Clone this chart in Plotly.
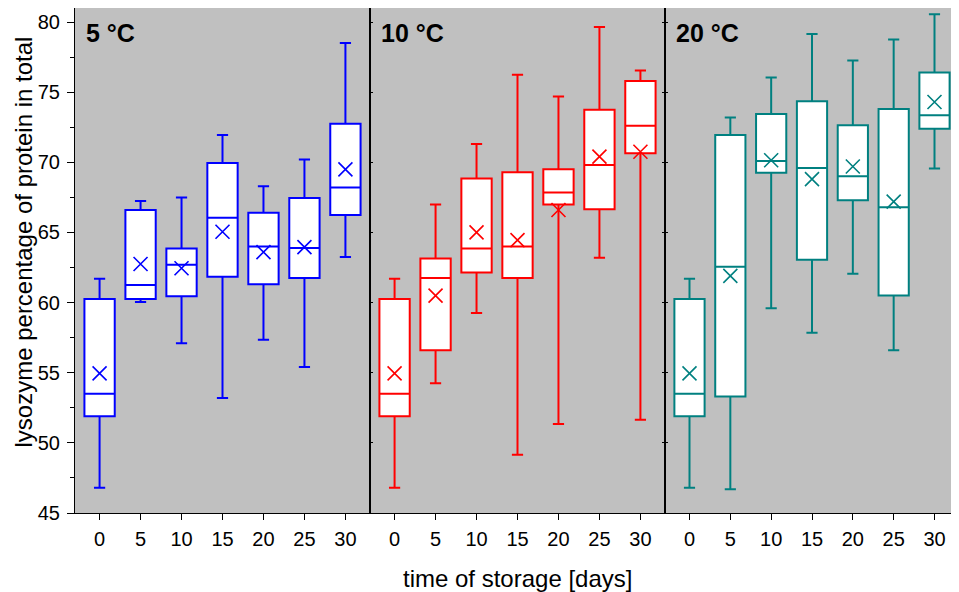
import plotly.graph_objects as go

days = [0, 5, 10, 15, 20, 25, 30]
panel_labels = ["5 °C", "10 °C", "20 °C"]
colors = ["#0000FF", "#FF0000", "#008080"]

# 5 °C
lo_5 = [46.8, 60.05, 57.1, 53.2, 57.35, 55.4, 63.25]
q1_5 = [51.9, 60.25, 60.45, 61.85, 61.3, 61.75, 66.25]
med_5 = [53.5, 61.25, 62.7, 66.05, 64.0, 63.9, 68.2]
q3_5 = [60.25, 66.6, 63.85, 69.95, 66.4, 67.45, 72.75]
hi_5 = [61.7, 67.25, 67.5, 71.95, 68.3, 70.2, 78.5]
mean_5 = [54.95, 62.75, 62.45, 65.05, 63.6, 63.95, 69.5]

# 10 °C
lo_10 = [46.8, 54.25, 59.25, 49.15, 51.35, 63.2, 51.65]
q1_10 = [51.9, 56.6, 62.15, 61.75, 67.0, 66.65, 70.65]
med_10 = [53.5, 61.75, 63.85, 64.0, 67.85, 69.8, 72.6]
q3_10 = [60.25, 63.15, 68.85, 69.3, 69.5, 73.75, 75.8]
hi_10 = [61.7, 67.0, 71.3, 76.25, 74.7, 79.65, 76.55]
mean_10 = [54.95, 60.5, 65.0, 64.45, 66.6, 70.4, 70.75]

# 20 °C
lo_20 = [46.8, 46.7, 59.6, 57.85, 62.05, 56.6, 69.55]
q1_20 = [51.9, 53.3, 69.25, 63.05, 67.3, 60.5, 72.4]
med_20 = [53.5, 62.55, 70.1, 69.6, 69.0, 66.8, 73.35]
q3_20 = [60.25, 71.95, 73.45, 74.35, 72.65, 73.8, 76.4]
hi_20 = [61.7, 73.2, 76.05, 79.15, 77.25, 78.75, 80.55]
mean_20 = [54.95, 61.9, 70.15, 68.8, 69.7, 67.2, 74.3]

y_ticks = [45, 50, 55, 60, 65, 70, 75, 80]
x_title = "time of storage [days]"
y_title = "lysozyme percentage of protein in total"

stats = [
    (lo_5, q1_5, med_5, q3_5, hi_5, mean_5),
    (lo_10, q1_10, med_10, q3_10, hi_10, mean_10),
    (lo_20, q1_20, med_20, q3_20, hi_20, mean_20),
]

FONT = "Liberation Sans, Arial, sans-serif"
OFF = 8  # page body margin
W, H = 959 - OFF, 592 - OFF
ML, MR, MT = 75 - OFF, 0, 0
PH = 513 - 8  # plot height in px (reference y 8..513)
MB = H - MT - PH
PW = W - ML - MR
edges = [0, 295, 590, PW]
domains = [[edges[i] / PW, edges[i + 1] / PW] for i in range(3)]


def px_x(xr):
    return (xr - OFF - ML) / PW


def px_y(yr):
    return (MT + PH - (yr - OFF)) / PH


fig = go.Figure()
for i, (lo, q1, med, q3, hi, mean) in enumerate(stats):
    xa = "x" if i == 0 else f"x{i+1}"
    ya = "y" if i == 0 else f"y{i+1}"
    fig.add_trace(go.Box(
        x=days, lowerfence=lo, q1=q1, median=med, q3=q3, upperfence=hi,
        xaxis=xa, yaxis=ya, width=3.7, whiskerwidth=0.37,
        fillcolor="white", line=dict(color=colors[i], width=2),
        boxpoints=False, showlegend=False, hoverinfo="skip",
    ))
    fig.add_trace(go.Scatter(
        x=days, y=mean, xaxis=xa, yaxis=ya, mode="markers",
        marker=dict(symbol="x-thin", size=14, color=colors[i],
                    line=dict(color=colors[i], width=1.6)),
        showlegend=False, hoverinfo="skip",
    ))

layout = dict(
    width=W, height=H,
    margin=dict(l=ML, r=MR, t=MT, b=MB),
    paper_bgcolor="white", plot_bgcolor="#C0C0C0",
    font=dict(family=FONT, size=20, color="black"),
    boxmode="overlay",
    showlegend=False,
)
for i in range(3):
    sx = "" if i == 0 else str(i + 1)
    layout[f"xaxis{sx}"] = dict(
        domain=domains[i], range=[-3, 33], anchor=f"y{sx}",
        tickvals=days, ticktext=[str(d) for d in days],
        ticks="outside", ticklen=6, tickcolor="black", tickwidth=1,
        showline=True, linecolor="black", linewidth=1, mirror=True,
        showgrid=False, zeroline=False,
        tickfont=dict(family=FONT, size=20), ticklabelstandoff=2,
    )
    ydict = dict(
        domain=[0, 1], range=[45, 81], anchor=f"x{sx}",
        tickvals=y_ticks, showgrid=False, zeroline=False,
        showline=True, linecolor="black", linewidth=1,
        tickcolor="black", tickwidth=1,
    )
    if i == 0:
        ydict.update(ticks="outside", ticklen=7, mirror=True,
                     ticktext=[str(v) for v in y_ticks],
                     tickfont=dict(family=FONT, size=20),
                     ticklabelstandoff=3,
                     minor=dict(tickvals=[47.5, 52.5, 57.5, 62.5, 67.5, 72.5, 77.5],
                                ticks="outside", ticklen=4, tickcolor="black"))
    elif i == 1:
        ydict.update(ticks="inside", ticklen=3, mirror="ticks",
                     showticklabels=False, matches="y")
    else:
        ydict.update(ticks="inside", ticklen=3, mirror=False,
                     showticklabels=False, matches="y")
    layout[f"yaxis{sx}"] = ydict

annotations = []
for i in range(3):
    sx = "" if i == 0 else str(i + 1)
    annotations.append(dict(
        text=f"<b>{panel_labels[i]}</b>", xref=f"x{sx} domain", yref=f"y{sx} domain",
        x=9 / 295, y=px_y(32.5), xanchor="left", yanchor="middle",
        showarrow=False, font=dict(family=FONT, size=25, color="black"),
    ))
annotations.append(dict(
    text=x_title, xref="paper", yref="paper",
    x=px_x(517), y=px_y(578), xanchor="center", yanchor="middle",
    showarrow=False, font=dict(family=FONT, size=24, color="black"),
))
annotations.append(dict(
    text=y_title, xref="paper", yref="paper", textangle=-90,
    x=px_x(OFF), y=px_y(242), xanchor="left", yanchor="middle",
    showarrow=False, font=dict(family=FONT, size=24, color="black"),
))
layout["annotations"] = annotations

fig.update_layout(**layout)
fig.write_html("out.html")
